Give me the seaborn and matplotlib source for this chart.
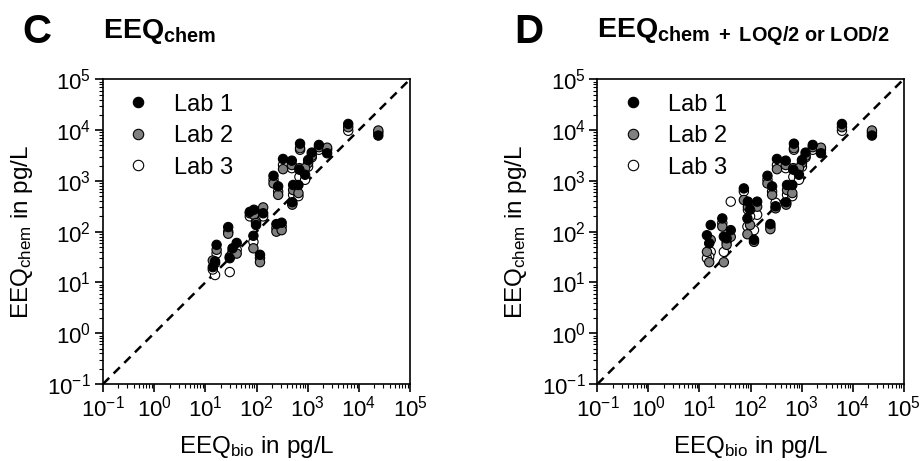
import matplotlib
matplotlib.use("Agg")
import matplotlib.pyplot as plt
from matplotlib.lines import Line2D
from matplotlib.ticker import LogLocator, NullFormatter
import pandas as pd
import seaborn as sns

# EEQ_bio (x) par échantillon, partagé par les 3 labos
bio_eeq = [24000, 6200, 710, 1660, 2400, 1200, 1020, 330, 490, 690, 890, 215, 265, 520,
           660, 500, 74, 89, 135, 98, 245, 310, 87, 117, 28, 16.6, 15.5, 30, 34, 41, 14]

# panneau C : EEQ_chem
lab1_c = [7800, 13200, 5400, 5100, 3500, 3600, 2570, 2700, 2500, 1660, 1320, 1260, 780, 830,
          830, 380, 245, 270, 230, 135, 141, 150, 83, 35, 123, 55, 26, 30, 47, 60, 20]
lab2_c = [9800, 11400, 4400, 4600, 4500, 3100, 2240, 1700, 2050, 1780, 1780, 890, 530, 660,
          575, 340, 230, 215, 300, 148, 100, 107, 47, 25, 91, 44, 24, 32, 37, 37, 27]
lab3_c = [8900, 9700, 4100, 4100, 4100, 2900, 1900, 2050, 1780, 1200, 1050, 1050, 620, 530,
          500, 360, 200, 230, 200, 158, 117, 126, 63, 30, 100, 37, 14, 16, 41, 44, 18]

# panneau D : EEQ_chem + LOQ/2 ou LOD/2
lab1_d = [7800, 13200, 5400, 5100, 3500, 3600, 2570, 2700, 2500, 1660, 1320, 1260, 780, 830,
          830, 380, 710, 390, 390, 270, 141, 316, 182, 69, 182, 135, 59, 80, 74, 107, 85]
lab2_d = [9800, 11400, 4400, 4600, 4500, 3100, 2240, 1700, 2050, 1780, 1780, 890, 530, 660,
          575, 340, 420, 310, 310, 135, 112, 288, 89, 63, 126, 69, 25, 25, 55, 79, 40]
lab3_d = [8900, 9700, 4100, 4100, 4100, 2900, 1900, 2050, 1780, 1200, 1050, 1050, 620, 530,
          500, 360, 620, 270, 215, 200, 126, 372, 126, 107, 148, 40, 32, 40, 63, 390, 30]

LABS = ["Lab 1", "Lab 2", "Lab 3"]
FACE = {"Lab 1": "black", "Lab 2": "#808080", "Lab 3": "white"}
TICKS = [1e-1, 1e0, 1e1, 1e2, 1e3, 1e4, 1e5]

sns.set_style("ticks")
plt.rcParams["font.family"] = ["Liberation Sans", "DejaVu Sans"]
plt.rcParams["text.color"] = "black"
plt.rcParams["axes.labelcolor"] = "black"
plt.rcParams["mathtext.fontset"] = "custom"
plt.rcParams["mathtext.rm"] = "Liberation Sans"
plt.rcParams["mathtext.it"] = "Liberation Sans:italic"
plt.rcParams["mathtext.bf"] = "Liberation Sans:bold"
plt.rcParams["mathtext.default"] = "regular"


def long_table(l1, l2, l3):
    # Lab 3 d'abord pour que Lab 1 soit dessiné au-dessus
    parts = []
    for lab, vals in [("Lab 3", l3), ("Lab 2", l2), ("Lab 1", l1)]:
        parts.append(pd.DataFrame({"bio": bio_eeq, "chem": vals, "lab": lab}))
    return pd.concat(parts, ignore_index=True)


def panel(ax, df):
    sns.scatterplot(data=df, x="bio", y="chem", hue="lab", palette=FACE, s=45,
                    edgecolor="black", linewidth=0.8, legend=False, ax=ax, zorder=3)
    ax.plot([1e-1, 1e5], [1e-1, 1e5], color="black", ls=(0, (3.5, 2.5)), lw=1.8, zorder=2)
    ax.set_xscale("log")
    ax.set_yscale("log")
    ax.set_xlim(1e-1, 1e5)
    ax.set_ylim(1e-1, 1e5)
    ax.set_xticks(TICKS)
    ax.set_yticks(TICKS)
    for axis in (ax.xaxis, ax.yaxis):
        axis.set_minor_locator(LogLocator(base=10, subs=range(2, 10), numticks=20))
        axis.set_minor_formatter(NullFormatter())
    ax.tick_params(which="major", direction="out", length=5.5, width=1.2, labelsize=16,
                   color="black", labelcolor="black", pad=3)
    ax.tick_params(which="minor", direction="out", length=3, width=0.8, color="black")
    for sp in ax.spines.values():
        sp.set_visible(True)
        sp.set_linewidth(1.2)
        sp.set_color("black")
    ax.set_xlabel(r"EEQ$_{\mathrm{bio}}$ in pg/L", fontsize=17.5, labelpad=9)
    ax.set_ylabel(r"EEQ$_{\mathrm{chem}}$ in pg/L", fontsize=17.5, labelpad=9)
    handles = [Line2D([], [], ls="", marker="o", markersize=7.5, markerfacecolor=FACE[l],
                      markeredgecolor="black", markeredgewidth=0.8) for l in LABS]
    ax.legend(handles, LABS, loc="upper left", frameon=False, fontsize=17,
              handlelength=1.5, handletextpad=0.75, labelspacing=0.4,
              borderaxespad=0.0, bbox_to_anchor=(0.027, 0.984))


fig = plt.figure(figsize=(9.22, 4.61), dpi=100)
ax_c = fig.add_axes([0.1117, 0.167, 0.333, 0.661])
ax_d = fig.add_axes([0.648, 0.167, 0.332, 0.661])

panel(ax_c, long_table(lab1_c, lab2_c, lab3_c))
panel(ax_d, long_table(lab1_d, lab2_d, lab3_d))

fig.text(0.024, 0.93, "C", fontsize=29, fontweight="bold", va="center")
fig.text(0.558, 0.93, "D", fontsize=29, fontweight="bold", va="center")
fig.text(0.1117, 0.918, r"$\mathbf{EEQ_{chem}}$", fontsize=20.5, va="baseline")
fig.text(0.648, 0.918, r"$\mathbf{EEQ_{chem\ +\ LOQ/2\ or\ LOD/2}}$", fontsize=20.5,
         va="baseline")

fig.savefig("out.png", dpi=100)
